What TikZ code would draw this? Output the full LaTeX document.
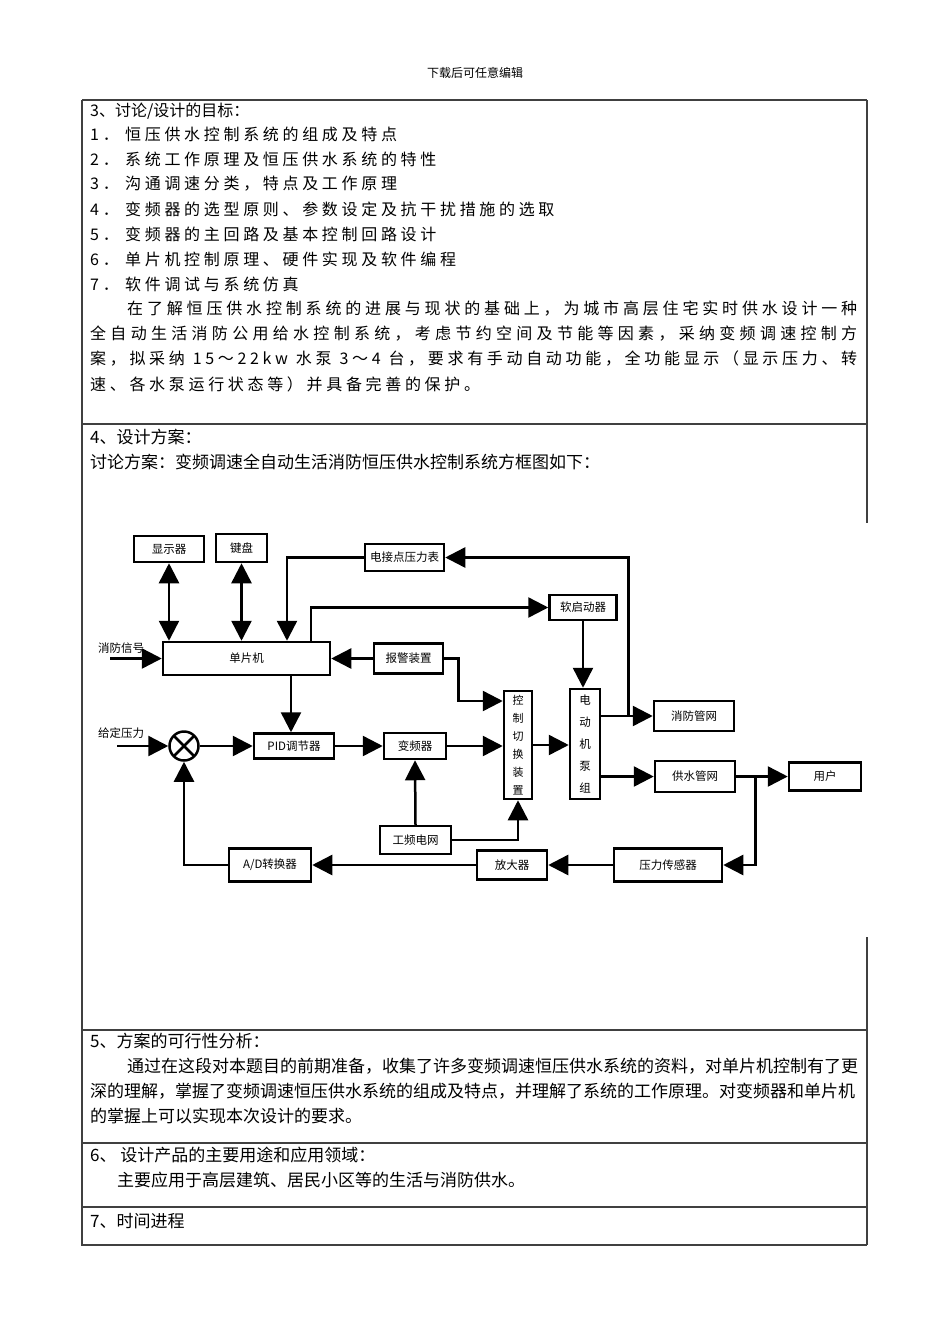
\documentclass[tikz,border=0pt]{standalone}
\usepackage{fontspec}
\newfontfamily\cjk{Noto Sans CJK SC}
\newfontfamily\cjkwide[LetterSpace=23]{Noto Sans CJK SC}
\usepackage{tikz}
\usetikzlibrary{positioning,arrows.meta}

\newcommand{\topfont}{\cjk\fontsize{12pt}{14pt}\selectfont}
\newcommand{\bodyfont}{\cjk\fontsize{17pt}{20pt}\selectfont}
\newcommand{\itemfont}{\cjkwide\fontsize{16pt}{19pt}\selectfont}
\newcommand{\blkfont}{\cjk\fontsize{11.5pt}{14pt}\selectfont}
% even spread of a justified line: glue between every character
\def\spreadtext#1{#1\spreadnext}
\def\spreadnext#1{\ifx#1\relax\else\hfil#1\expandafter\spreadnext\fi}

\begin{document}
\begin{tikzpicture}[x=1pt, y=-1pt,
    rule/.style={line width=1.3pt, black!75},
    txt/.style={anchor=west, inner sep=0pt, font=\bodyfont},
    itm/.style={anchor=west, inner sep=0pt, font=\itemfont},
    lbl/.style={inner sep=0pt, font=\blkfont},
    blk/.style={draw, line width=2.5pt, inner sep=0pt, font=\blkfont},
    vblk/.style={blk, align=center},
    op/.style={draw, circle, line width=2.5pt, minimum size=29pt, inner sep=0pt,
               path picture={\draw[line width=2.5pt]
                 (path picture bounding box.north west) -- (path picture bounding box.south east)
                 (path picture bounding box.north east) -- (path picture bounding box.south west);}},
    arr/.style={-{Triangle[length=20pt,width=20pt]}, line width=2.5pt},
    darr/.style={{Triangle[length=20pt,width=20pt]}-{Triangle[length=20pt,width=20pt]}, line width=2.5pt}
  ]
  \useasboundingbox (0,0) rectangle (950,1344);

  % table frame; the right rule is hidden behind the block diagram
  \draw[rule] (82,100) -- (867,100);
  \draw[rule] (82,100) -- (82,1245) -- (867,1245);
  \draw[rule] (867,100) -- (867,523);
  \draw[rule] (867,937) -- (867,1245);
  \draw[rule] (82,424) -- (867,424);
  \draw[rule] (82,1030) -- (867,1030);
  \draw[rule] (82,1143) -- (867,1143);
  \draw[rule] (82,1207) -- (867,1207);

  \node[font=\topfont] (hd) at (475,73) {下载后可任意编辑};

  % section 3
  \node[txt, font=\cjk\fontsize{16pt}{19pt}\selectfont] (s3) at (90,111) {3、讨论/设计的目标：};
  \node[itm] (i1) at (90,134) {\makebox[35pt][l]{1．}恒压供水控制系统的组成及特点};
  \node[itm] (i2) at (90,159) {\makebox[35pt][l]{2．}系统工作原理及恒压供水系统的特性};
  \node[itm] (i3) at (90,184) {\makebox[35pt][l]{3．}沟通调速分类，特点及工作原理};
  \node[itm] (i4) at (90,209) {\makebox[35pt][l]{4．}变频器的选型原则、参数设定及抗干扰措施的选取};
  \node[itm] (i5) at (90,234) {\makebox[35pt][l]{5．}变频器的主回路及基本控制回路设计};
  \node[itm] (i6) at (90,259) {\makebox[35pt][l]{6．}单片机控制原理、硬件实现及软件编程};
  \node[itm] (i7) at (90,284) {\makebox[35pt][l]{7．}软件调试与系统仿真};
  \node[itm] (p1) at (127,309) {\makebox[730pt][s]{\spreadtext 在了解恒压供水控制系统的进展与现状的基础上，为城市高层住宅实时供水设计一种\relax}};
  \node[itm] (p2) at (90,334) {\makebox[767pt][s]{\spreadtext 全自动生活消防公用给水控制系统，考虑节约空间及节能等因素，采纳变频调速控制方\relax}};
  \node[itm] (p3) at (90,359) {\makebox[767pt][s]{案，拟采纳\hfill 15～22kw\hfill 水泵\hfill 3～4\hfill 台，要求有手动自动功能，全功能显示（显示压力、转}};
  \node[itm] (p4) at (90,384) {速、各水泵运行状态等）并具备完善的保护。};

  % section 4
  \node[txt] (s4) at (90,437) {4、设计方案：};
  \node[txt] (s4a) at (90,462) {讨论方案：变频调速全自动生活消防恒压供水控制系统方框图如下：};

  % block diagram
  \node[blk, minimum width=70pt, minimum height=26pt] (xsq) at (169,549) {显示器};
  \node[blk, minimum width=51pt, minimum height=28pt] (jp) at (241.5,548) {键盘};
  \node[blk, minimum width=79pt, minimum height=27pt] (djd) at (404.5,557.5) {电接点压力表};
  \node[blk, minimum width=67pt, minimum height=25pt] (rqd) at (583,607.5) {软启动器};
  \node[blk, minimum width=167pt, minimum height=33pt] (dpj) at (246.5,658.5) {单片机};
  \node[blk, minimum width=69pt, minimum height=30pt] (bj) at (408.5,658.5) {报警装置};
  \node[vblk, minimum width=28pt, minimum height=108pt,
        font=\cjk\fontsize{11pt}{18pt}\selectfont] (kz) at (518,745) {控\\制\\切\\换\\装\\置};
  \node[vblk, minimum width=30pt, minimum height=110pt,
        font=\cjk\fontsize{11.5pt}{22pt}\selectfont] (dj) at (585,744) {电\\动\\机\\泵\\组};
  \node[blk, minimum width=80pt, minimum height=30pt] (xf) at (694,716) {消防管网};
  \node[blk, minimum width=80pt, minimum height=31pt] (gs) at (695,776.5) {供水管网};
  \node[blk, minimum width=72pt, minimum height=28pt] (yh) at (825,776.5) {用户};
  \node[op] (sum) at (184,746) {};
  \node[blk, minimum width=80pt, minimum height=25pt] (pid) at (294,746) {PID调节器};
  \node[blk, minimum width=62pt, minimum height=26pt] (bp) at (415,746) {变频器};
  \node[blk, minimum width=71pt, minimum height=28pt] (gp) at (415.5,840) {工频电网};
  \node[blk, minimum width=82pt, minimum height=33pt] (ad) at (270,865) {A/D转换器};
  \node[blk, minimum width=70pt, minimum height=29pt] (fd) at (512,865) {放大器};
  \node[blk, minimum width=108pt, minimum height=33pt] (cgq) at (668,865) {压力传感器};

  \node[lbl] (xfsig) at (121,648) {消防信号};
  \node[lbl] (gdyl) at (121,733) {给定压力};
  \coordinate (xfin) at (110,658.5);
  \coordinate (gdin) at (117,746);
  \coordinate (jxf) at ([xshift=27pt]dj.east |- xf.west);
  \coordinate (jgs) at ([xshift=19pt]gs.east);

  % controller side
  \draw[darr] (xsq.south) -- (xsq.south |- dpj.north);
  \draw[darr] (jp.south) -- (jp.south |- dpj.north);
  \draw[arr] (xfin) -- (dpj.west);
  \draw[arr] (djd.west) -| ([xshift=40.5pt]dpj.north);
  \draw[arr] ([xshift=64.5pt]dpj.north) |- (rqd.west);
  \draw[arr] (bj.west) -- (dpj.east |- bj.west);
  \draw[arr] (bj.east) -- ++(14,0) |- ([yshift=44pt]kz.west);
  \draw[arr] ([xshift=44.5pt]dpj.south) -- ([xshift=44.5pt]dpj.south |- pid.north);
  \draw[arr] (rqd.south) -- (rqd.south |- dj.north);

  % forward path
  \draw[arr] (gdin) -- (sum.west);
  \draw[arr] (sum.east) -- (pid.west);
  \draw[arr] (pid.east) -- (bp.west);
  \draw[arr] (bp.east) -- (bp.east -| kz.west);
  \draw[arr] (gp.north) -- (bp.south);
  \draw[arr] (gp.east) -| (kz.south);
  \draw[arr] (kz.east) -- (kz.east -| dj.west);
  \draw[arr] (dj.east |- xf.west) -- (xf.west);
  \draw[arr] (jxf) |- (djd.east);
  \draw[arr] (dj.east |- gs.west) -- (gs.west);
  \draw[arr] (gs.east) -- (yh.west);

  % feedback path
  \draw[arr] (jgs) |- (cgq.east);
  \draw[arr] (cgq.west) -- (fd.east);
  \draw[arr] (fd.west) -- (ad.east);
  \draw[arr] (ad.west) -| (sum.south);

  % sections 5 to 7
  \node[txt] (s5) at (90,1041) {5、方案的可行性分析：};
  \node[txt] (s5a) at (127,1066) {通过在这段对本题目的前期准备，收集了许多变频调速恒压供水系统的资料，对单片机控制有了更};
  \node[txt] (s5b) at (90,1091) {深的理解，掌握了变频调速恒压供水系统的组成及特点，并理解了系统的工作原理。对变频器和单片机};
  \node[txt] (s5c) at (90,1116) {的掌握上可以实现本次设计的要求。};
  \node[txt] (s6) at (90,1155) {6、 设计产品的主要用途和应用领域：};
  \node[txt] (s6a) at (117,1180) {主要应用于高层建筑、居民小区等的生活与消防供水。};
  \node[txt] (s7) at (90,1221) {7、时间进程};
\end{tikzpicture}
\end{document}
